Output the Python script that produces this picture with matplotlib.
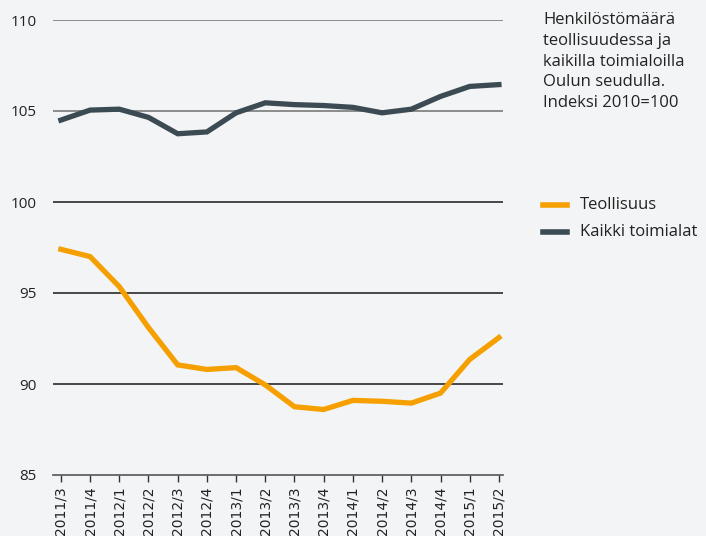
import matplotlib.pyplot as plt
from matplotlib.lines import Line2D

quarters = ["2011/3", "2011/4", "2012/1", "2012/2", "2012/3", "2012/4", "2013/1", "2013/2",
            "2013/3", "2013/4", "2014/1", "2014/2", "2014/3", "2014/4", "2015/1", "2015/2"]
teollisuus = [97.4, 97.0, 95.35, 93.1, 91.05, 90.8, 90.9, 89.95,
              88.75, 88.6, 89.1, 89.05, 88.95, 89.5, 91.35, 92.55]
kaikki = [104.5, 105.05, 105.1, 104.65, 103.75, 103.85, 104.9, 105.45,
          105.35, 105.3, 105.2, 104.9, 105.1, 105.8, 106.35, 106.45]
yticks = [85, 90, 95, 100, 105, 110]
series_names = ["Teollisuus", "Kaikki toimialat"]

bg = "#f3f4f6"
orange = "#f5a000"
dark = "#3c4b53"

fig = plt.figure(figsize=(7.06, 5.36), dpi=100, facecolor=bg)
ax = fig.add_axes([53/706, 1 - 475/536, 450/706, 455/536], facecolor=bg)

x = list(range(len(quarters)))
for y in yticks[1:]:
    col = "#7a7a7a" if y >= 105 else "#2a2a2a"
    ax.axhline(y, color=col, lw=1.2, zorder=1)

ax.plot(x, teollisuus, color=orange, lw=3.8, solid_joinstyle="miter", zorder=3)
ax.plot(x, kaikki, color=dark, lw=3.8, solid_joinstyle="miter", zorder=3)

ax.set_xlim(-0.27, 15.14)
ax.set_ylim(85, 110)
for s in ["top", "right", "left"]:
    ax.spines[s].set_visible(False)
ax.spines["bottom"].set_color("#555555")
ax.spines["bottom"].set_linewidth(1.2)

ax.set_xticks(x)
ax.set_xticklabels(quarters, rotation=90, fontsize=10, family=["Liberation Sans Narrow", "DejaVu Sans"],
                   color="#222222")
ax.tick_params(axis="x", direction="out", length=5, width=1, color="#333333", pad=3)
ax.set_yticks(yticks)
ax.set_yticklabels([str(v) for v in yticks], fontsize=11, family="Open Sans", color="#222222")
ax.tick_params(axis="y", length=0, pad=12)

fig.text(543/706, 1 - 12/536,
         "Henkilöstömäärä\nteollisuudessa ja\nkaikilla toimialoilla\nOulun seudulla.\nIndeksi 2010=100",
         ha="left", va="top", fontsize=12, family="Open Sans", color="#222222", linespacing=1.4)

# legend drawn by hand to sit where the reference has it
for name, col, ypx in zip(series_names, [orange, dark], [205, 232]):
    yf = 1 - ypx/536
    fig.add_artist(Line2D([543/706, 567/706], [yf, yf], color=col, lw=4, transform=fig.transFigure))
    fig.text(580/706, yf, name, ha="left", va="center", fontsize=12, family="Open Sans", color="#222222")

plt.savefig("out.png", dpi=100, facecolor=bg)
